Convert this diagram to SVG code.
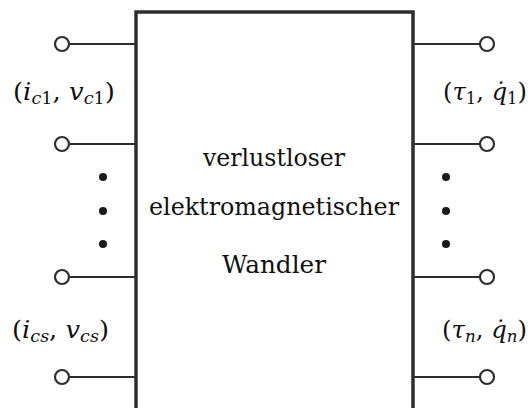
<svg xmlns="http://www.w3.org/2000/svg" width="528" height="408" viewBox="0 0 528 408">
<style>
.box{fill:none;stroke:#2e2e2e;stroke-width:3.5}
.pin{stroke:#2e2e2e;stroke-width:2;fill:none}
.term{fill:#fff;stroke:#2e2e2e;stroke-width:2.2}
.dot{fill:#1a1a1a}
.t{font-family:"DejaVu Serif","Liberation Serif",serif;font-size:24px;fill:#111}
.m{font-family:"DejaVu Serif","Liberation Serif",serif;font-size:25px;fill:#111}
.i{font-style:italic}
.s{font-size:17px}
</style>
<rect width="528" height="408" fill="#fff"/>
<g id="wandler">
<rect class="box" x="136" y="12" width="277" height="410"/>
<text class="t" x="274" y="166" text-anchor="middle" textLength="142" lengthAdjust="spacingAndGlyphs">verlustloser</text>
<text class="t" x="274" y="215" text-anchor="middle" textLength="250" lengthAdjust="spacingAndGlyphs">elektromagnetischer</text>
<text class="t" x="274" y="273" text-anchor="middle" textLength="104" lengthAdjust="spacingAndGlyphs">Wandler</text>
</g>
<g id="connectors">
<line class="pin" x1="69" y1="44" x2="136" y2="44"/>
<line class="pin" x1="69" y1="144" x2="136" y2="144"/>
<line class="pin" x1="69" y1="277" x2="136" y2="277"/>
<line class="pin" x1="69" y1="377" x2="136" y2="377"/>
<line class="pin" x1="413" y1="44" x2="480" y2="44"/>
<line class="pin" x1="413" y1="144" x2="480" y2="144"/>
<line class="pin" x1="413" y1="277" x2="480" y2="277"/>
<line class="pin" x1="413" y1="377" x2="480" y2="377"/>
</g>
<g id="terminals-left">
<circle class="term" cx="62" cy="44" r="7"/>
<circle class="term" cx="62" cy="144" r="7"/>
<circle class="term" cx="62" cy="277" r="7"/>
<circle class="term" cx="62" cy="377" r="7"/>
<circle class="dot" cx="103" cy="177" r="4"/>
<circle class="dot" cx="103" cy="211" r="4"/>
<circle class="dot" cx="103" cy="244" r="4"/>
</g>
<g id="terminals-right">
<circle class="term" cx="487" cy="44" r="7"/>
<circle class="term" cx="487" cy="144" r="7"/>
<circle class="term" cx="487" cy="277" r="7"/>
<circle class="term" cx="487" cy="377" r="7"/>
<circle class="dot" cx="446" cy="177" r="4"/>
<circle class="dot" cx="446" cy="211" r="4"/>
<circle class="dot" cx="446" cy="244" r="4"/>
</g>
<g id="label-c1">
<text class="m" x="13" y="100" textLength="102" lengthAdjust="spacingAndGlyphs">(<tspan class="i">i</tspan><tspan class="s" dy="4"><tspan class="i">c</tspan>1</tspan><tspan dy="-4">, </tspan><tspan class="i">v</tspan><tspan class="s" dy="4"><tspan class="i">c</tspan>1</tspan><tspan dy="-4">)</tspan></text>
</g>
<g id="label-cs">
<text class="m" x="12" y="338" textLength="97" lengthAdjust="spacingAndGlyphs">(<tspan class="i">i</tspan><tspan class="s i" dy="4">cs</tspan><tspan dy="-4">, </tspan><tspan class="i">v</tspan><tspan class="s i" dy="4">cs</tspan><tspan dy="-4">)</tspan></text>
</g>
<g id="label-1">
<text class="m" x="443" y="100" textLength="84" lengthAdjust="spacingAndGlyphs">(<tspan class="i">τ</tspan><tspan class="s" dy="4">1</tspan><tspan dy="-4">, </tspan><tspan class="i">q̇</tspan><tspan class="s" dy="4">1</tspan><tspan dy="-4">)</tspan></text>
</g>
<g id="label-n">
<text class="m" x="442" y="338" textLength="85" lengthAdjust="spacingAndGlyphs">(<tspan class="i">τ</tspan><tspan class="s i" dy="4">n</tspan><tspan dy="-4">, </tspan><tspan class="i">q̇</tspan><tspan class="s i" dy="4">n</tspan><tspan dy="-4">)</tspan></text>
</g>
</svg>
